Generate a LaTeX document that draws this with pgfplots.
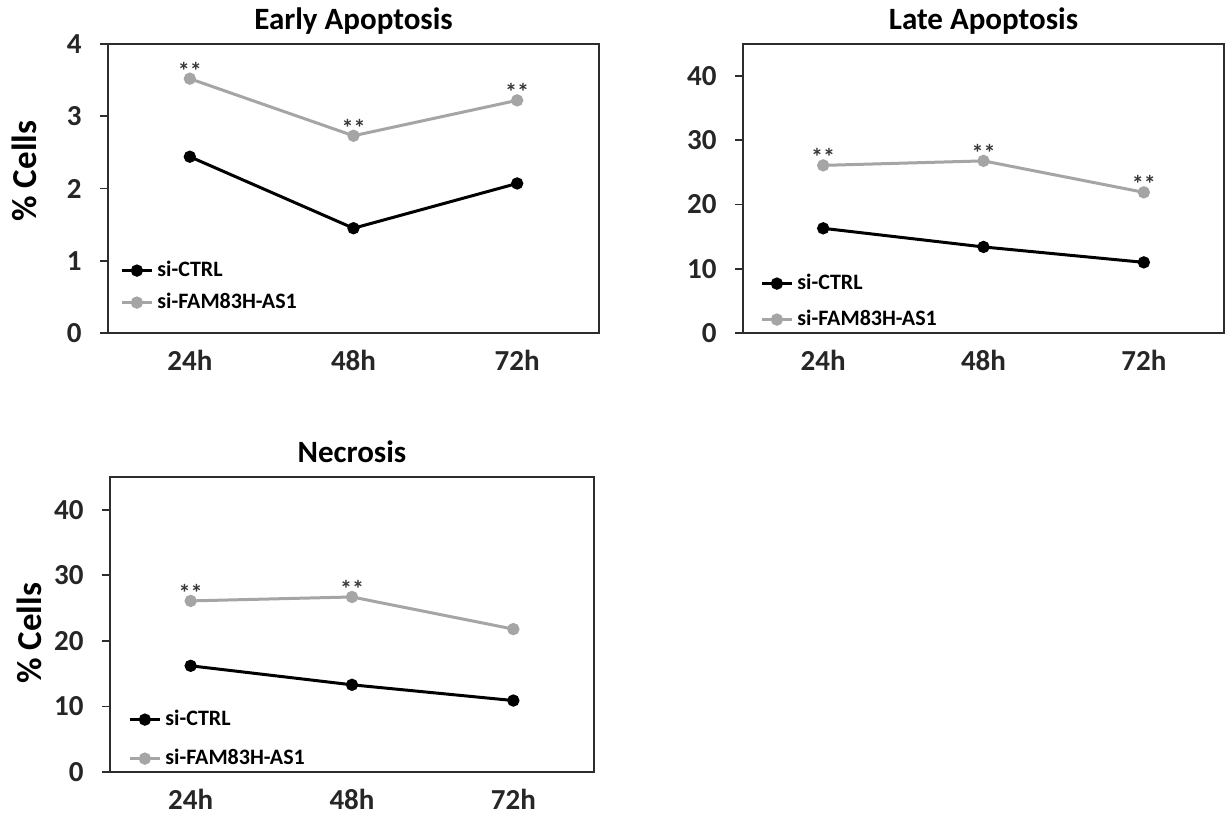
\documentclass[border=0pt]{standalone}
\usepackage{fontspec}
\setmainfont{Carlito}
\usepackage{pgfplots}
\pgfplotsset{compat=1.18}
\definecolor{sergray}{RGB}{165,165,165}
\definecolor{boxcol}{RGB}{45,45,45}
\definecolor{starcol}{RGB}{55,55,55}
\pgfplotsset{
  panel/.style={
    scale only axis,
    anchor=south west,
    xmin=0.5, xmax=3.5,
    xtick={1,2,3},
    xticklabels={24h,48h,72h},
    xtick style={draw=none},
    ytick pos=left,
    tick align=outside,
    major tick length=4pt,
    ytick style={boxcol, line width=0.9pt},
    axis line style={boxcol, line width=1.2pt},
    /pgf/number format/assume math mode=true,
    tick label style={font=\fontsize{14.5}{14.5}\selectfont\bfseries, color=black!85},
    yticklabel style={anchor=east, inner sep=0pt, xshift=-9pt},
    xticklabel style={anchor=north, inner sep=0pt, yshift=-4.5pt},
    title style={font=\fontsize{15.5}{15.5}\selectfont\bfseries, at={(axis description cs:0.5,1)}, anchor=base, yshift=1.5pt},
    ylabel style={font=\fontsize{17.5}{17.5}\selectfont\bfseries},
    legend style={draw=none, fill=none, inner sep=0pt, anchor=south west,
      font=\fontsize{11}{11}\selectfont\bfseries, column sep=2pt,
      nodes={inner sep=0pt, text height=7pt, text depth=0pt}},
    legend cell align=left,
    legend image code/.code={\draw[mark repeat=2, mark phase=2, #1] plot coordinates {(0pt,-0.5pt) (7.5pt,-0.5pt) (15pt,-0.5pt)};},
  },
  ctrl/.style={black, line width=1.5pt, mark=*, mark size=2.3pt, mark options={solid, fill=black}},
  fam/.style={sergray, line width=1.5pt, mark=*, mark size=2.3pt, mark options={solid, fill=sergray}},
  stars/.style={draw=none, mark=none, forget plot, nodes near coords={**},
    every node near coord/.style={font=\fontsize{12}{12}\selectfont\bfseries, color=starcol, anchor=base, yshift=-0.3pt}},
}
\begin{document}
\begin{tikzpicture}
\useasboundingbox (0,0) rectangle (615.5pt,410.5pt);
% Panel 1
\begin{axis}[panel, at={(54pt,244pt)}, width=245.5pt, height=144.5pt,
  ymin=0, ymax=4, ytick={0,1,2,3,4},
  title={Early Apoptosis},
  ylabel={\% Cells},
  ylabel style={at={(axis description cs:-0.17,0.56)}, anchor=center},
  legend style={at={(axis description cs:0,0)}, xshift=6pt, yshift=12pt, row sep=9pt}]
\addplot[ctrl] coordinates {(1,2.44) (2,1.45) (3,2.07)};
\addplot[fam] coordinates {(1,3.52) (2,2.73) (3,3.22)};
\addplot[stars] coordinates {(1,3.52) (2,2.73) (3,3.22)};
\legend{si-CTRL, si-FAM83H-AS1}
\end{axis}
% Panel 2
\begin{axis}[panel, at={(371.5pt,244pt)}, width=240.5pt, height=144.5pt,
  ymin=0, ymax=45, ytick={0,10,20,30,40},
  title={Late Apoptosis},
  legend style={at={(axis description cs:0,0)}, xshift=8.5pt, yshift=3.5pt, row sep=11pt}]
\addplot[ctrl] coordinates {(1,16.3) (2,13.4) (3,11.0)};
\addplot[fam] coordinates {(1,26.1) (2,26.8) (3,21.9)};
\addplot[stars] coordinates {(1,26.1) (2,26.8) (3,21.9)};
\legend{si-CTRL, si-FAM83H-AS1}
\end{axis}
% Panel 3
\begin{axis}[panel, at={(55pt,24.5pt)}, width=242pt, height=147.5pt,
  ymin=0, ymax=45, ytick={0,10,20,30,40},
  title={Necrosis},
  ylabel={\% Cells},
  ylabel style={at={(axis description cs:-0.167,0.47)}, anchor=center},
  legend style={at={(axis description cs:0,0)}, xshift=9pt, yshift=3.5pt, row sep=12.5pt}]
\addplot[ctrl] coordinates {(1,16.2) (2,13.3) (3,10.9)};
\addplot[fam] coordinates {(1,26.1) (2,26.7) (3,21.8)};
\addplot[stars] coordinates {(1,26.1) (2,26.7)};
\legend{si-CTRL, si-FAM83H-AS1}
\end{axis}
\end{tikzpicture}
\end{document}
